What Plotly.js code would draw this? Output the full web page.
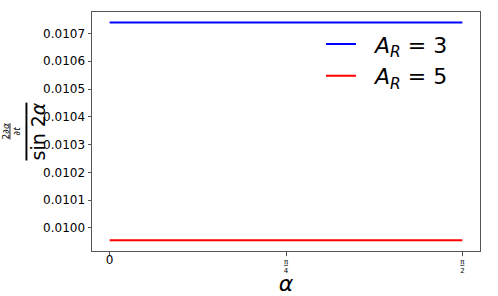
<!DOCTYPE html>
<html>
<head>
<meta charset="utf-8">
<script src="https://cdn.plot.ly/plotly-3.0.1.min.js"></script>
<style>html,body{margin:0;padding:0;background:#fff;}#chart{width:498px;height:296px;}</style>
</head>
<body>
<div id="chart"></div>
<script>
// data
var alphaValues = [0, 0.3927, 0.7854, 1.1781, 1.5708];
var seriesAR3 = [0.01074, 0.01074, 0.01074, 0.01074, 0.01074];
var seriesAR5 = [0.009956, 0.009956, 0.009956, 0.009956, 0.009956];
var seriesNames = ['A_R = 3', 'A_R = 5'];
var xTickVals = [0, 0.7854, 1.5708];
var xTickLabels = ['0', 'π/4', 'π/2'];
var yTickVals = [0.0100, 0.0101, 0.0102, 0.0103, 0.0104, 0.0105, 0.0106, 0.0107];

function fmtTick(s) {
  if (s.indexOf('/') < 0) return "<span style='font-size:12px'>" + s + "</span>";
  var p = s.split('/');
  return "<span style='text-decoration:underline'>" + p[0] + "</span><br>" + p[1];
}
function fmtName(s) {
  var p = s.split(' = ');
  var q = p[0].split('_');
  return '\u00a0\u00a0<i>' + q[0] + '</i><sub><i>' + q[1] + '</i></sub> = ' + p[1];
}

var font = 'DejaVu Sans, sans-serif';
var traces = [
  {x: alphaValues, y: seriesAR3, mode: 'lines', name: fmtName(seriesNames[0]), line: {color: '#0000ff', width: 2}},
  {x: alphaValues, y: seriesAR5, mode: 'lines', name: fmtName(seriesNames[1]), line: {color: '#ff0000', width: 2}}
];

var layout = {
  width: 498, height: 296,
  margin: {l: 92, r: 18, t: 12, b: 45},
  paper_bgcolor: '#fff', plot_bgcolor: '#fff',
  font: {family: font, color: '#000'},
  showlegend: true,
  legend: {x: (321 - 92) / 388, y: 0.953, xanchor: 'left', yanchor: 'top',
           font: {size: 22, family: font}, bgcolor: 'rgba(0,0,0,0)'},
  xaxis: {
    range: [-0.0785, 1.6493], showgrid: false, zeroline: false,
    showline: true, mirror: true, linecolor: '#555', linewidth: 1,
    ticks: 'outside', ticklen: 3.5, tickcolor: '#555',
    tickvals: xTickVals, ticktext: xTickLabels.map(fmtTick),
    tickfont: {size: 7, family: font},
    title: {text: '<i>α</i>', font: {size: 22, family: font}, standoff: 0}
  },
  yaxis: {
    range: [0.0099172, 0.0107774], showgrid: false, zeroline: false,
    showline: true, mirror: true, linecolor: '#555', linewidth: 1,
    ticks: 'outside', ticklen: 3.5, tickcolor: '#555',
    tickvals: yTickVals, tickformat: '.4f',
    tickfont: {size: 12, family: font}
  },
  annotations: [
    {xref: 'paper', yref: 'paper', x: (37 - 92) / 388, y: 0.5, xanchor: 'center', yanchor: 'middle',
     textangle: -90, showarrow: false,
     text: "<span style='text-decoration:overline'>sin 2<i>α</i></span>", font: {size: 19, family: font}},
    {xref: 'paper', yref: 'paper', x: (11 - 92) / 388, y: 0.5, xanchor: 'center', yanchor: 'middle',
     textangle: -90, showarrow: false,
     text: "<span style='text-decoration:underline'>2∂<i>α</i></span><br>∂<i>t</i>", font: {size: 9, family: font}}
  ]
};

Plotly.newPlot('chart', traces, layout, {displayModeBar: false, staticPlot: true});
</script>
</body>
</html>
